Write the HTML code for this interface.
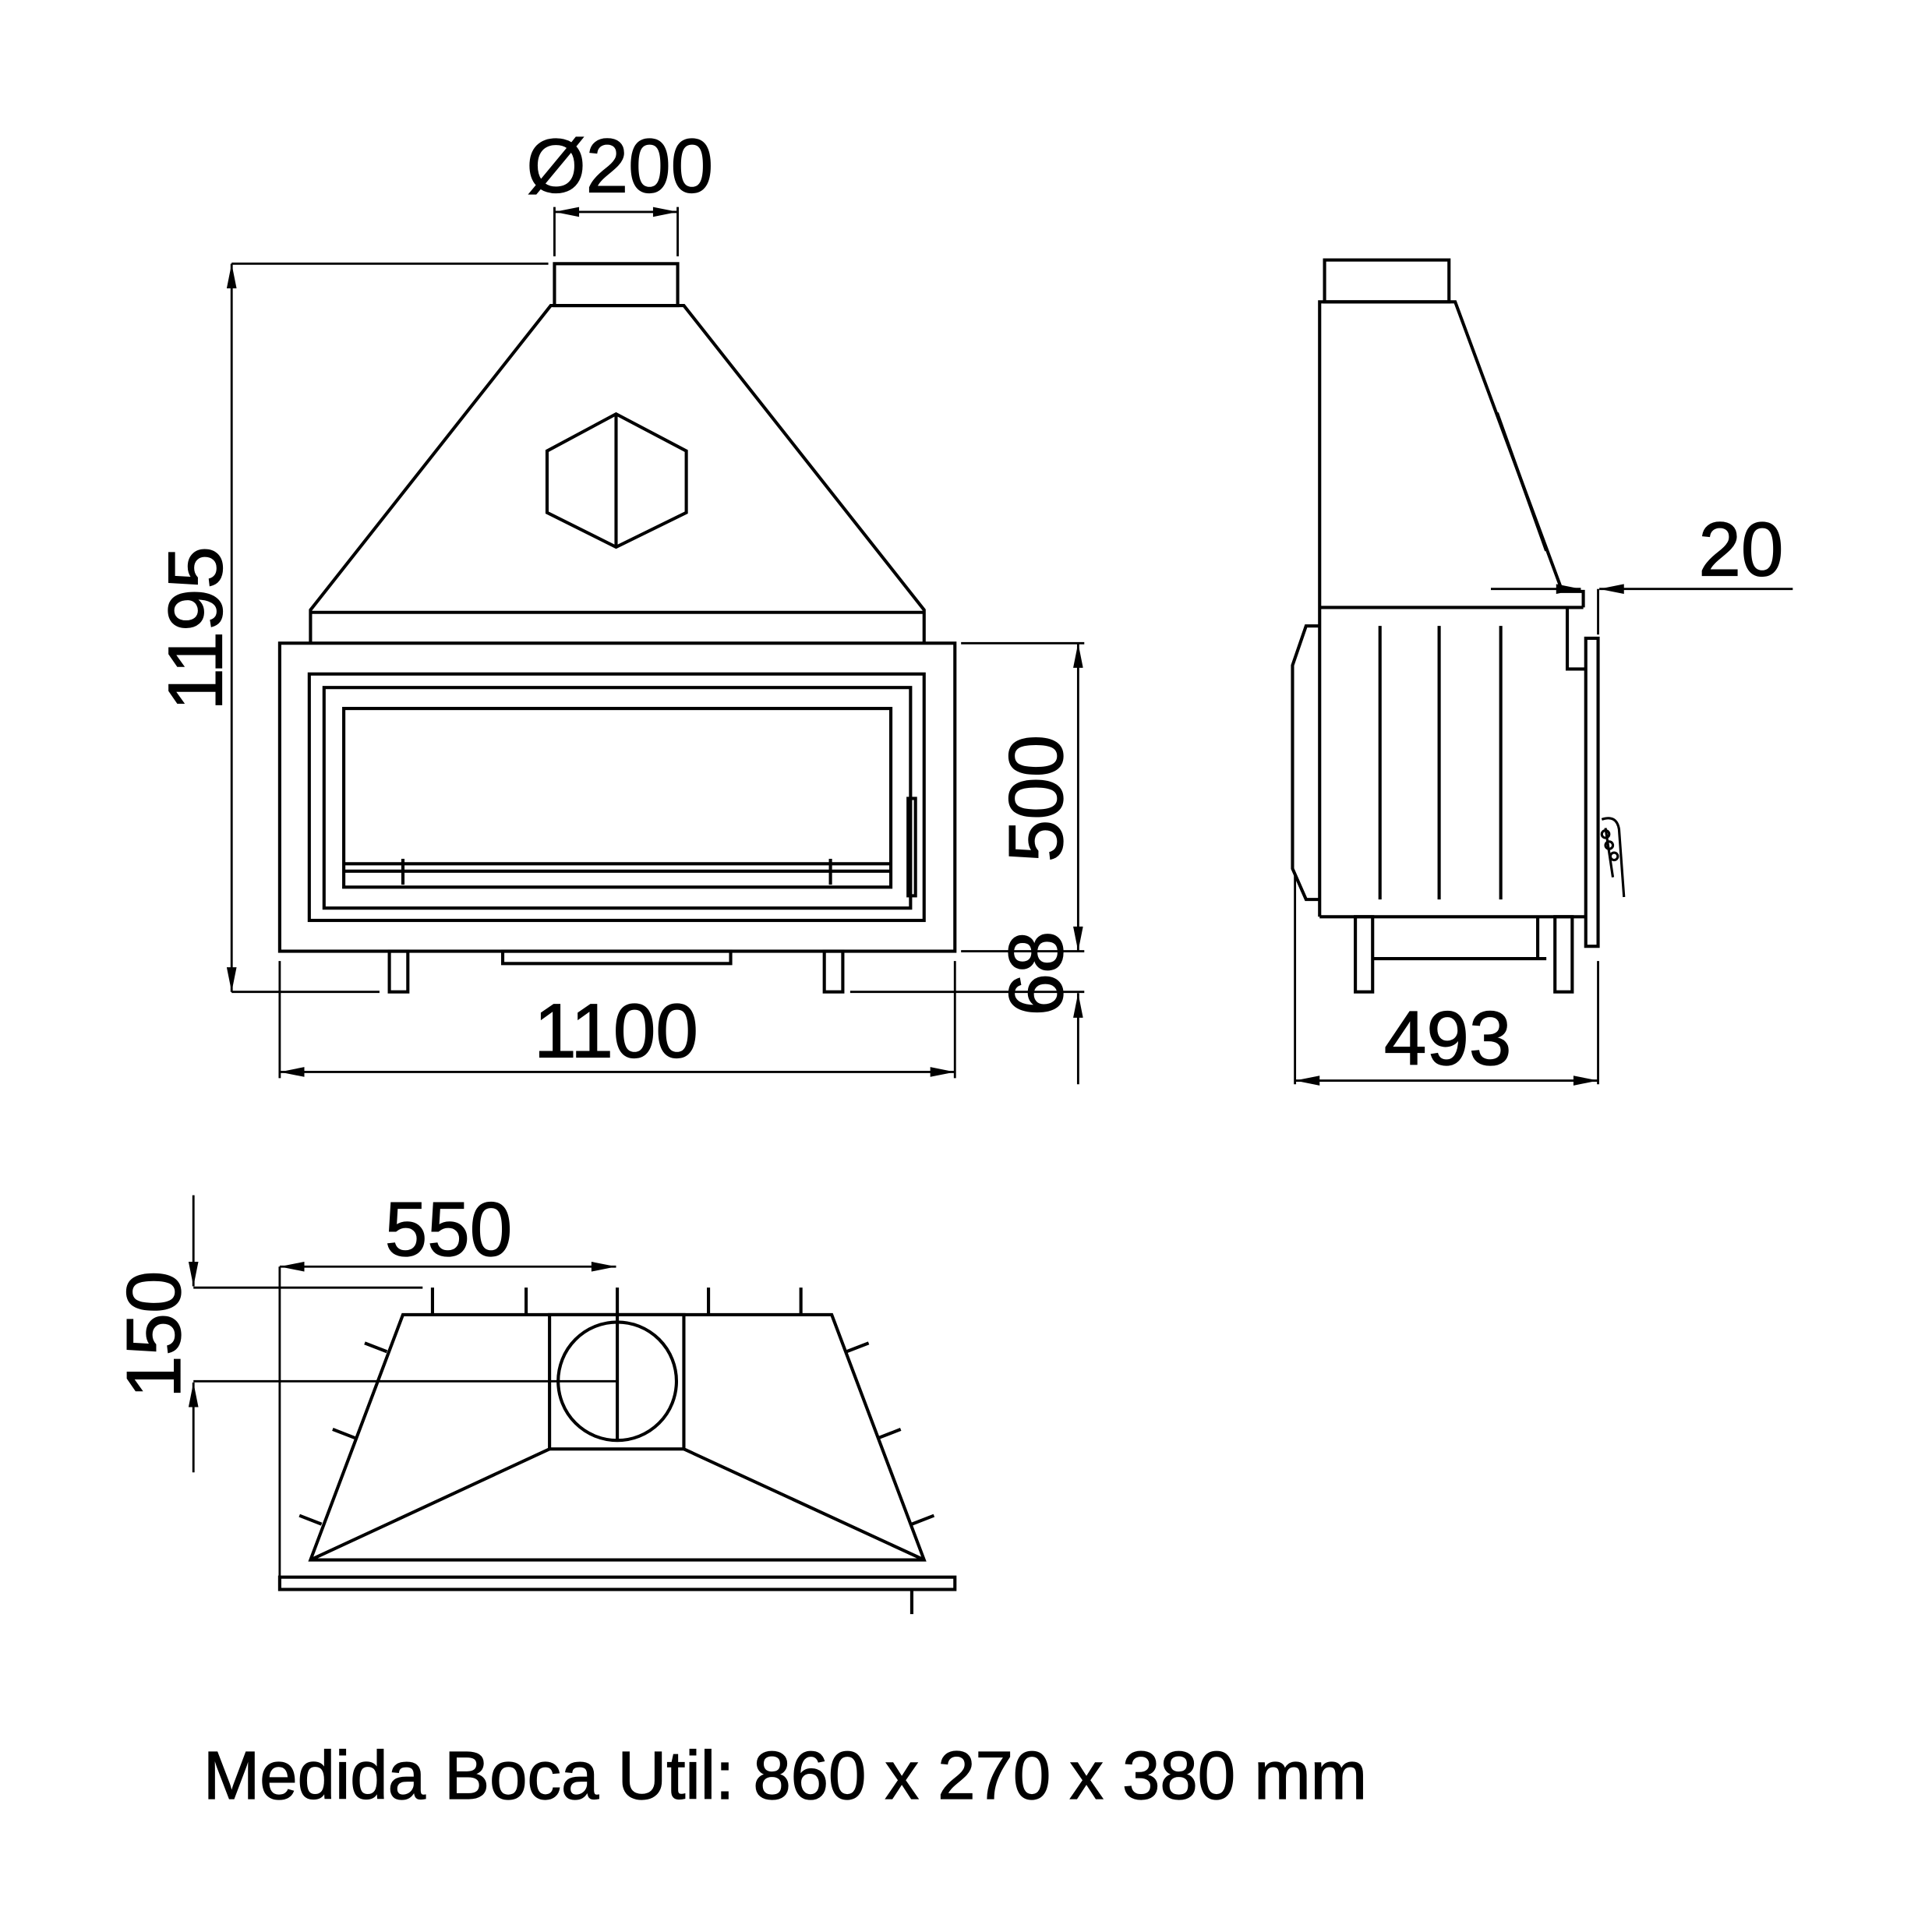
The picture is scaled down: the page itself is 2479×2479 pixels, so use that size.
<!DOCTYPE html>
<html><head><meta charset="utf-8"><style>
html,body{margin:0;padding:0;background:#fff}
svg{display:block}
text{font-family:"Liberation Sans",Arial,sans-serif;fill:#000;stroke:#000;stroke-width:0.8}
</style></head><body>
<svg width="2479" height="2479" viewBox="0 0 1568 1568" xmlns="http://www.w3.org/2000/svg">
<defs>
<marker id="a" viewBox="0 0 20 8" refX="20" refY="4" markerWidth="22" markerHeight="8" markerUnits="userSpaceOnUse" orient="auto-start-reverse"><path d="M0,0 L20,4 L0,8 z" fill="#000"/></marker>
</defs>
<rect width="1568" height="1568" fill="#fff"/>
<g fill="none" stroke="#000" stroke-width="2.6">
<!-- FRONT VIEW -->
<rect x="450" y="214" width="100" height="34"/>
<polyline points="252,522 252,495 447,248 555,248 750,495 750,522"/>
<line x1="252" y1="497" x2="750" y2="497"/>
<polygon points="500,336 557,366 557,416 500,444 444,416 444,366"/>
<line x1="500" y1="336" x2="500" y2="444"/>
<rect x="227" y="522" width="548" height="250"/>
<rect x="251" y="547" width="499" height="200"/>
<rect x="263" y="558" width="476" height="179"/>
<rect x="279" y="575" width="444" height="145"/>
<line x1="279" y1="701" x2="723" y2="701"/>
<line x1="279" y1="707" x2="723" y2="707"/>
<line x1="327" y1="697" x2="327" y2="718"/>
<line x1="674" y1="697" x2="674" y2="718"/>
<rect x="737" y="648" width="6" height="79"/>
<rect x="408" y="772" width="185" height="10"/>
<rect x="316" y="772" width="15" height="33"/>
<rect x="669" y="772" width="15" height="33"/>
<g stroke-width="1.8">
<line x1="188" y1="214" x2="445" y2="214"/>
<line x1="188" y1="805" x2="308" y2="805"/>
<line x1="188" y1="214" x2="188" y2="805" marker-start="url(#a)" marker-end="url(#a)"/>
<line x1="450" y1="168" x2="450" y2="208"/>
<line x1="550" y1="168" x2="550" y2="208"/>
<line x1="450" y1="172" x2="550" y2="172" marker-start="url(#a)" marker-end="url(#a)"/>
<line x1="227" y1="780" x2="227" y2="875"/>
<line x1="775" y1="780" x2="775" y2="875"/>
<line x1="227" y1="870" x2="775" y2="870" marker-start="url(#a)" marker-end="url(#a)"/>
<line x1="780" y1="522" x2="880" y2="522"/>
<line x1="780" y1="772" x2="880" y2="772"/>
<line x1="875" y1="522" x2="875" y2="772" marker-start="url(#a)" marker-end="url(#a)"/>
<line x1="690" y1="805" x2="880" y2="805"/>
<line x1="875" y1="880" x2="875" y2="806" marker-end="url(#a)"/>
</g>
<!-- SIDE VIEW -->
<rect x="1075" y="211" width="101" height="34"/>
<polyline points="1071,744 1071,245 1181,245 1268,480 1285,480 1285,493"/>
<line x1="1071" y1="493" x2="1285" y2="493"/>
<polyline points="1272,493 1272,543 1287,543"/>
<line x1="1215" y1="335" x2="1255" y2="447"/>
<rect x="1287" y="518" width="10" height="250"/>
<line x1="1120" y1="508" x2="1120" y2="730"/>
<line x1="1168" y1="508" x2="1168" y2="730"/>
<line x1="1218" y1="508" x2="1218" y2="730"/>
<line x1="1071" y1="744" x2="1287" y2="744"/>
<polyline points="1071,508 1060,508 1049,540 1049,705 1060,730 1071,730"/>
<rect x="1100" y="744" width="14" height="61"/>
<rect x="1262" y="744" width="14" height="61"/>
<line x1="1114" y1="778" x2="1255" y2="778"/>
<line x1="1248" y1="744" x2="1248" y2="778"/>
<path d="M1300,665 q12,-4 14,8 l4,55 M1303,672 l6,40" stroke-width="2"/>
<g stroke-width="2"><circle cx="1303" cy="677" r="3"/><circle cx="1306" cy="686" r="3"/><circle cx="1310" cy="695" r="3"/></g>
<g stroke-width="1.8">
<line x1="1051" y1="710" x2="1051" y2="880"/>
<line x1="1297" y1="780" x2="1297" y2="880"/>
<line x1="1051" y1="877" x2="1297" y2="877" marker-start="url(#a)" marker-end="url(#a)"/>
<line x1="1210" y1="478" x2="1283" y2="478" marker-end="url(#a)"/>
<line x1="1455" y1="478" x2="1298" y2="478" marker-end="url(#a)"/>
<line x1="1297" y1="478" x2="1297" y2="515"/>
</g>
<!-- TOP VIEW -->
<rect x="227" y="1280" width="548" height="10"/>
<line x1="740" y1="1290" x2="740" y2="1310"/>
<polygon points="327,1067 675,1067 750,1266 252,1266"/>
<rect x="446" y="1067" width="109" height="109"/>
<circle cx="501" cy="1121" r="48"/>
<line x1="501" y1="1045" x2="501" y2="1169"/>
<line x1="446" y1="1176" x2="252" y2="1266"/>
<line x1="555" y1="1176" x2="750" y2="1266"/>
<line x1="351" y1="1045" x2="351" y2="1067"/>
<line x1="427" y1="1045" x2="427" y2="1067"/>
<line x1="575" y1="1045" x2="575" y2="1067"/>
<line x1="650" y1="1045" x2="650" y2="1067"/>
<line x1="296" y1="1090" x2="314" y2="1097"/>
<line x1="270" y1="1160" x2="288" y2="1167"/>
<line x1="243" y1="1230" x2="261" y2="1237"/>
<line x1="705" y1="1090" x2="687" y2="1097"/>
<line x1="731" y1="1160" x2="713" y2="1167"/>
<line x1="758" y1="1230" x2="740" y2="1237"/>
<g stroke-width="1.8">
<line x1="227" y1="1028" x2="227" y2="1280"/>
<line x1="227" y1="1028" x2="500" y2="1028" marker-start="url(#a)" marker-end="url(#a)"/>
<line x1="157" y1="1045" x2="343" y2="1045"/>
<line x1="157" y1="1121" x2="500" y2="1121"/>
<line x1="157" y1="970" x2="157" y2="1044" marker-end="url(#a)"/>
<line x1="157" y1="1195" x2="157" y2="1122" marker-end="url(#a)"/>
</g>
</g>
<g font-size="62">
<text x="503" y="156" text-anchor="middle">Ø200</text>
<text x="500" y="858" text-anchor="middle">1100</text>
<text x="1175" y="864" text-anchor="middle">493</text>
<text x="1413" y="467" text-anchor="middle">20</text>
<text x="364" y="1019" text-anchor="middle">550</text>
<text transform="translate(180,510) rotate(-90)" text-anchor="middle">1195</text>
<text transform="translate(862,648) rotate(-90)" text-anchor="middle">500</text>
<text transform="translate(862,790) rotate(-90)" text-anchor="middle">68</text>
<text transform="translate(146,1083) rotate(-90)" text-anchor="middle">150</text>
</g>
<text x="165" y="1460" font-size="55">Medida Boca Util: 860 x 270 x 380 mm</text>
</svg>
</body></html>
